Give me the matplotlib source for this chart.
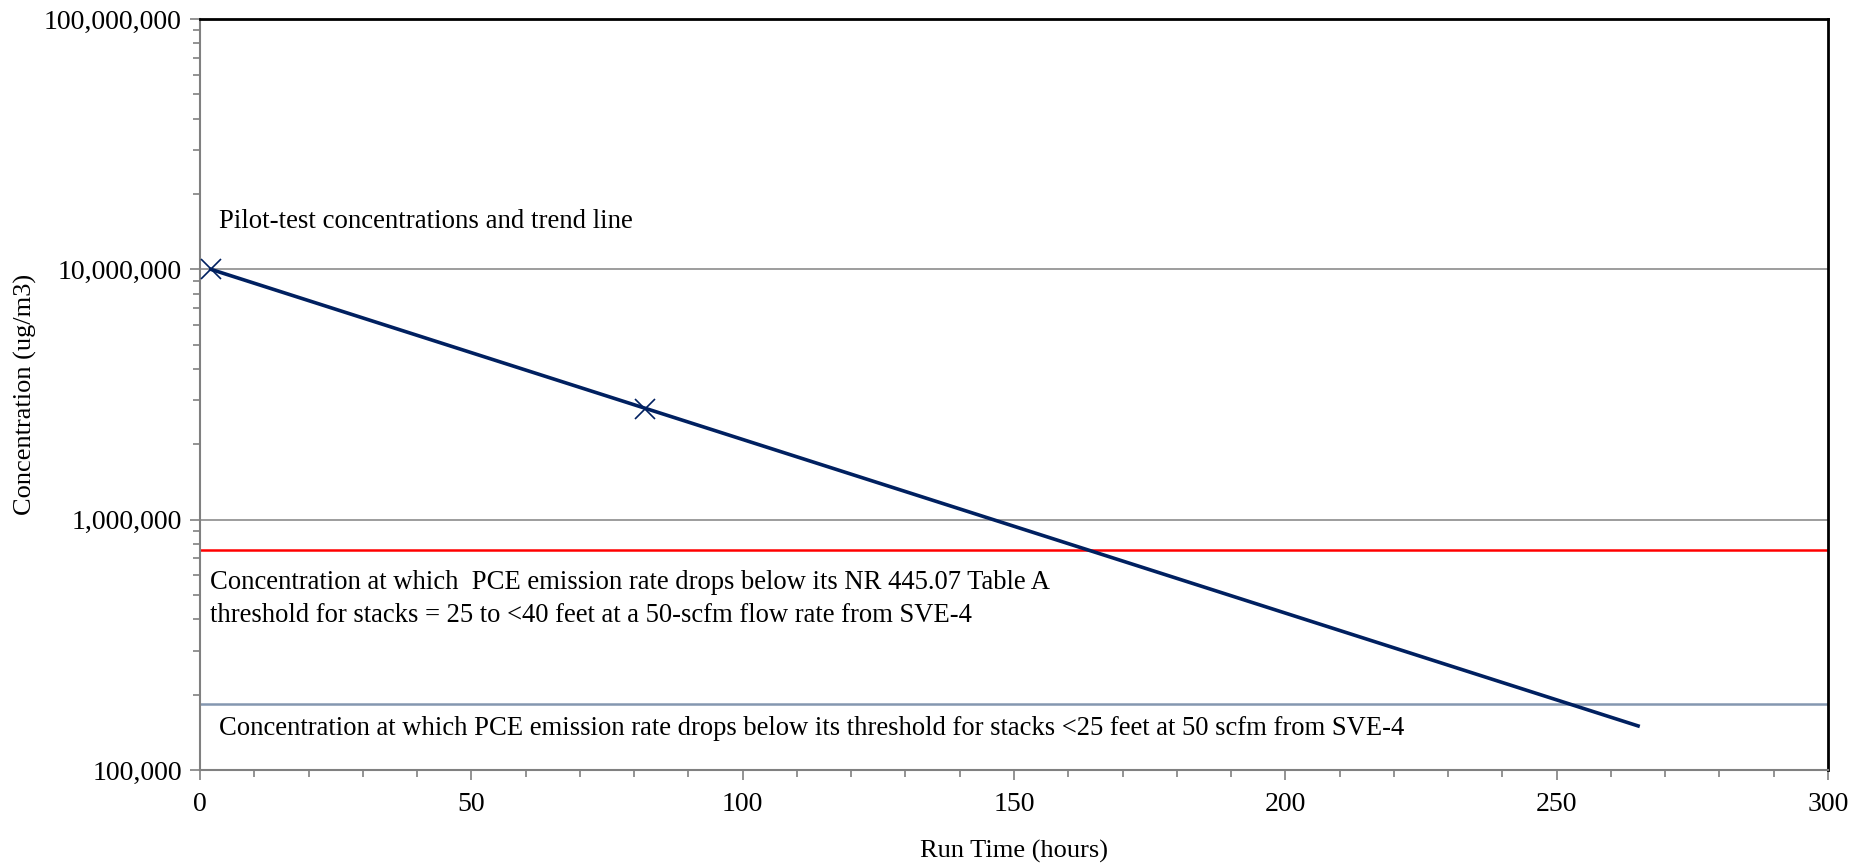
import matplotlib.pyplot as plt
from matplotlib.ticker import FixedLocator, LogLocator, NullFormatter, FuncFormatter

plt.rcParams['font.family'] = ['Liberation Serif', 'DejaVu Serif']

# pilot-test measurements
run_hours = [2, 82]
conc = [10000000, 2780000]

# exponential trend line end points
trend_hours = [2, 265]
trend_conc = [10000000, 150000]

# thresholds
table_a_limit = 755000
stack25_limit = 183000

fig = plt.figure(figsize=(18.66, 8.64), dpi=100)
ax = fig.add_axes([200/1866, 94/864, 1628/1866, 751/864])

ax.axhline(1e7, color='#8c8c8c', lw=1.2, zorder=1)
ax.axhline(1e6, color='#8c8c8c', lw=1.2, zorder=1)
ax.axhline(table_a_limit, color='#ff0000', lw=1.8, zorder=2)
ax.axhline(stack25_limit, color='#8497b0', lw=1.8, zorder=2)

ax.plot(trend_hours, trend_conc, color='#002060', lw=2.6, zorder=3)
ax.plot(run_hours, conc, linestyle='none', marker='x', ms=14, mew=1.2,
        color='#002060', zorder=4, clip_on=False)

ax.set_yscale('log')
ax.set_xlim(0, 300)
ax.set_ylim(1e5, 1e8)

ax.xaxis.set_major_locator(FixedLocator([0, 50, 100, 150, 200, 250, 300]))
ax.xaxis.set_minor_locator(FixedLocator(range(0, 301, 10)))
ax.yaxis.set_major_locator(FixedLocator([1e5, 1e6, 1e7, 1e8]))
ax.yaxis.set_minor_locator(LogLocator(base=10, subs=range(2, 10)))
ax.yaxis.set_minor_formatter(NullFormatter())
ax.yaxis.set_major_formatter(FuncFormatter(lambda v, p: f'{v:,.0f}'))

ax.tick_params(axis='both', which='major', direction='out', length=7, width=1.2,
               color='#808080', labelsize=20, pad=6)
ax.tick_params(axis='both', which='minor', direction='out', length=5, width=1.2,
               color='#808080')
ax.tick_params(axis='x', which='major', pad=9)

for s in ['left', 'bottom']:
    ax.spines[s].set_color('#808080')
    ax.spines[s].set_linewidth(1.5)
for s in ['top', 'right']:
    ax.spines[s].set_color('black')
    ax.spines[s].set_linewidth(2)

ax.set_xlabel('Run Time (hours)', fontsize=19, labelpad=16)
ax.set_ylabel('Concentration (ug/m3)', fontsize=19, labelpad=5)

ax.text(0.0117, 0.731, 'Pilot-test concentrations and trend line',
        transform=ax.transAxes, fontsize=19.3, va='center', ha='left')
ax.text(0.006, 0.228,
        'Concentration at which  PCE emission rate drops below its NR 445.07 Table A\n'
        'threshold for stacks = 25 to <40 feet at a 50-scfm flow rate from SVE-4',
        transform=ax.transAxes, fontsize=19.2, va='center', ha='left', linespacing=1.4)
ax.text(0.0117, 0.0546,
        'Concentration at which PCE emission rate drops below its threshold for stacks <25 feet at 50 scfm from SVE-4',
        transform=ax.transAxes, fontsize=19.2, va='center', ha='left')

fig.savefig('out.png', dpi=100)
